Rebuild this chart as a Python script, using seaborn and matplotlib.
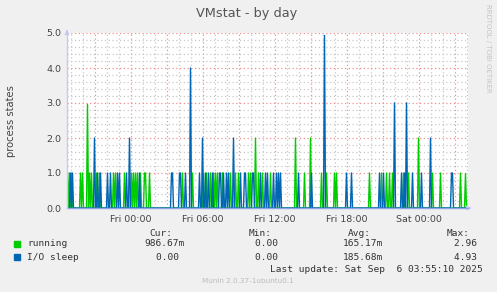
import numpy as np
import pandas as pd
import matplotlib
matplotlib.use("Agg")
import matplotlib.pyplot as plt
import seaborn as sns

# ---- data (minutes relative to Fri 00:00, 5-minute samples) ----
SAMPLE_START_MIN = -315
SAMPLE_COUNT = 400
STEP_MIN = 5

running_at = [-315, -305, -295, -250, -240, -215, -205, -195, -170, -155, -85, -75,
              -30, 5, 15, 25, 35, 50, 70, 75, 95, 260, 310, 365, 380, 400, 415, 425,
              435, 460, 500, 525, 540, 590, 600, 625, 640, 660, 700, 825, 870, 900,
              955, 980, 1020, 1030, 1195, 1255, 1280, 1295, 1310, 1365, 1390, 1440,
              1510, 1550, 1650, 1675]
running_val = [1, 1, 1, 1, 1, 2.96, 1, 1, 1, 1, 1, 1,
               1, 1, 1, 1, 1, 1, 1, 1, 1, 1, 1, 1, 1, 1, 1, 1,
               1, 1, 1, 1, 1, 1, 1, 2, 1, 1, 1, 2, 1, 2,
               1, 1, 1, 1, 1, 1, 1, 1, 1, 1, 1, 2,
               1, 1, 1, 0.98667]

iosleep_at = [-300, -290, -180, -165, -150, -115, -100, -65, -55, -20, -5, 45,
              205, 210, 245, 250, 275, 300, 345, 360, 375, 390, 410, 445, 450, 465,
              480, 490, 515, 550, 570, 575, 610, 615, 650, 675, 685, 715, 730, 740,
              750, 840, 905, 970, 1080, 1105, 1245, 1265, 1320, 1355, 1370, 1380,
              1410, 1455, 1500, 1605, 1610]
iosleep_val = [1, 1, 2, 1, 1, 1, 1, 1, 1, 1, 2, 1,
               1, 1, 1, 1, 1, 4, 1, 2, 1, 1, 1, 1, 1, 1,
               1, 1, 2, 1, 1, 1, 1, 1, 1, 1, 1, 1, 1, 1,
               1, 1, 1, 4.93, 1, 1, 1, 1, 3, 1, 1, 3,
               1, 1, 2, 1, 1]

series_names = ["running", "I/O sleep"]
series_colors = ["#00CC00", "#0066B3"]
xtick_pos = [0, 360, 720, 1080, 1440]
xtick_labels = ["Fri 00:00", "Fri 06:00", "Fri 12:00", "Fri 18:00", "Sat 00:00"]
ytick_pos = [0, 1, 2, 3, 4, 5]
ytick_labels = ["0.0", "1.0", "2.0", "3.0", "4.0", "5.0"]

legend_cur = ["986.67m", "0.00 "]
legend_min = ["0.00 ", "0.00 "]
legend_avg = ["165.17m", "185.68m"]
legend_max = ["2.96 ", "4.93 "]

# ---- build frame ----
minutes = SAMPLE_START_MIN + STEP_MIN * np.arange(SAMPLE_COUNT)
frames = []
for name, at, val in [("running", running_at, running_val),
                      ("I/O sleep", iosleep_at, iosleep_val)]:
    s = pd.Series(0.0, index=minutes)
    s.loc[at] = val
    frames.append(pd.DataFrame({"minute": minutes, "value": s.values, "series": name}))
df = pd.concat(frames, ignore_index=True)

# ---- figure ----
W, H = 497, 292
fig = plt.figure(figsize=(W / 100, H / 100), dpi=100, facecolor="#F0F0F0")
L, R, T, B = 67, 468, 33, 208
ax = fig.add_axes([L / W, 1 - B / H, (R - L) / W, (B - T) / H])
ax.set_facecolor("white")

xmin = SAMPLE_START_MIN - 2.5
xmax = xmin + (R - L) * STEP_MIN
ax.set_xlim(xmin, xmax)
ax.set_ylim(0, 5)

# grids
for m in np.arange(-300, xmax, 60):
    major = (m % 180 == 0)
    ax.axvline(m, color="#F09090" if major else "#C8C8C8", lw=0.9,
               ls=(0, (1, 2)), zorder=1)
for v in np.arange(0.2, 5.01, 0.2):
    major = abs(v - round(v)) < 1e-6
    ax.axhline(v, color="#F09090" if major else "#C8C8C8", lw=0.9,
               ls=(0, (1, 2)), zorder=1)

sns.lineplot(data=df, x="minute", y="value", hue="series",
             hue_order=series_names, palette=series_colors,
             legend=False, linewidth=1.0, ax=ax, zorder=3)

for sp in ax.spines.values():
    sp.set_visible(False)
ax.set_xlabel("")
ax.set_ylabel("")
ax.set_xticks(xtick_pos)
ax.set_xticklabels(xtick_labels)
ax.set_yticks(ytick_pos)
ax.set_yticklabels(ytick_labels)
ax.tick_params(axis="both", length=0, labelsize=6.8, labelcolor="#444444", pad=4)
ax.tick_params(axis="x", pad=5)

# axes lines with arrows
ax.plot([xmin, xmax], [0, 0], color="#8FA4E6", lw=1, zorder=4, clip_on=False)
ax.plot([xmin, xmin], [0, 5], color="#C8C8F4", lw=1, zorder=4, clip_on=False)
ax.annotate("", xy=(1.016, 0), xytext=(0.995, 0), xycoords="axes fraction",
            arrowprops=dict(arrowstyle="-|>", color="#C8C8F4", lw=1,
                            mutation_scale=6), annotation_clip=False)
ax.annotate("", xy=(0, 1.035), xytext=(0, 0.99), xycoords="axes fraction",
            arrowprops=dict(arrowstyle="-|>", color="#C8C8F4", lw=1,
                            mutation_scale=6), annotation_clip=False)

# titles
fig.text(247 / W, 1 - 13 / H, "VMstat - by day", ha="center", va="center",
         fontsize=9.3, color="#555555")
fig.text(11 / W, 1 - 121 / H, "process states", rotation=90, ha="center",
         va="center", fontsize=7.2, color="#444444")
fig.text(488 / W, 1 - 48 / H, "RRDTOOL / TOBI OETIKER", rotation=270,
         ha="center", va="center", fontsize=5, color="#C4C4C4")

# legend
mono = "DejaVu Sans Mono"
fs = 6.8
def ty(y):
    return 1 - y / H

for x_right, txt in [(172, "Cur:"), (272, "Min:"), (371, "Avg:"), (470, "Max:")]:
    fig.text(x_right / W, ty(233), txt, ha="right", va="center",
             family=mono, fontsize=fs, color="#333333")

rows_y = [244, 257]
for i, name in enumerate(series_names):
    y = rows_y[i]
    fig.patches.append(plt.Rectangle((14 / W, ty(y) - 3 / H), 6 / W, 6 / H,
                                     transform=fig.transFigure,
                                     color=series_colors[i]))
    fig.text(27 / W, ty(y), name, ha="left", va="center", family=mono,
             fontsize=fs, color="#333333")
    for x_right, col in [(185, legend_cur), (284, legend_min),
                         (383, legend_avg), (483, legend_max)]:
        fig.text(x_right / W, ty(y), col[i], ha="right", va="center",
                 family=mono, fontsize=fs, color="#333333")

fig.text(483 / W, ty(269), "Last update: Sat Sep  6 03:55:10 2025",
         ha="right", va="center", family=mono, fontsize=fs, color="#333333")
fig.text(248 / W, ty(281), "Munin 2.0.37-1ubuntu0.1", ha="center",
         va="center", fontsize=5.2, color="#BBBBBB")

fig.savefig("out.png", dpi=100, facecolor=fig.get_facecolor())
